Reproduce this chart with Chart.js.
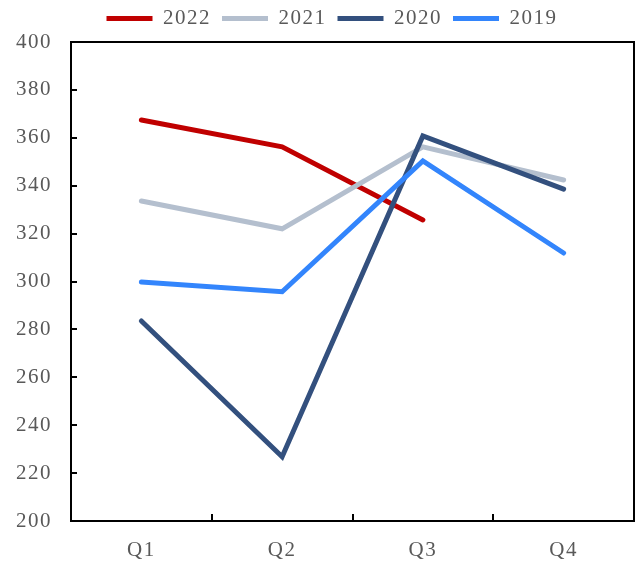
<!DOCTYPE html>
<html>
<head>
<meta charset="utf-8">
<script src="https://cdn.jsdelivr.net/npm/chart.js@4/dist/chart.umd.min.js"></script>
<style>
  html, body { margin: 0; padding: 0; background: #fff; }
  #wrap { width: 643px; height: 563px; position: relative; }
</style>
</head>
<body>
<div id="wrap"><canvas id="quarterChart"></canvas></div>
<script>
const quarters = ['Q1', 'Q2', 'Q3', 'Q4'];
const seriesNames = ['2022', '2021', '2020', '2019'];
const values2022 = [367.4, 356.2, 325.7, null];
const values2021 = [333.6, 322.0, 356.2, 342.4];
const values2020 = [283.5, 226.8, 360.8, 338.6];
const values2019 = [299.8, 295.7, 350.3, 311.9];
const seriesColors = ['#C00000', '#B4BFCE', '#33507E', '#3385FC'];
const yTicks = [200, 220, 240, 260, 280, 300, 320, 340, 360, 380, 400];

const FONT = '"Liberation Serif", "Times New Roman", serif';
const TEXT_GREY = '#595959';

// spaced-out digits like the original export
const spacing = {
  id: 'spacing',
  beforeLayout(chart) { chart.ctx.letterSpacing = '1.5px'; },
  beforeDraw(chart) { chart.ctx.letterSpacing = '1.5px'; },
};

// legend: a little more room under it, and nudged right of the canvas centre
const legendPlacement = {
  id: 'legendPlacement',
  beforeLayout(chart) {
    const lg = chart.legend;
    if (!lg || lg._gapPatched) return;
    const fit = lg.fit;
    lg.fit = function () {
      fit.call(this);
      this.height += 3;
    };
    lg._gapPatched = true;
  },
  afterLayout(chart) {
    const lg = chart.legend;
    if (!lg) return;
    lg.left += 15;
    lg.right += 15;
  },
};

// closed frame with inward tick marks
const frame = {
  id: 'frame',
  afterDatasetsDraw(chart) {
    const { ctx, chartArea: a, scales } = chart;
    ctx.save();
    ctx.strokeStyle = '#000';
    ctx.lineWidth = 2;
    ctx.strokeRect(a.left, a.top, a.right - a.left, a.bottom - a.top);
    ctx.beginPath();
    yTicks.forEach((v) => {
      const py = Math.round(scales.y.getPixelForValue(v));
      ctx.moveTo(a.left, py);
      ctx.lineTo(a.left + 6, py);
    });
    for (let i = 0; i < quarters.length - 1; i++) {
      const px = Math.round((scales.x.getPixelForValue(i) + scales.x.getPixelForValue(i + 1)) / 2);
      ctx.moveTo(px, a.bottom);
      ctx.lineTo(px, a.bottom - 7);
    }
    ctx.stroke();
    ctx.restore();
  },
};

function lineSet(label, data, color, order) {
  return {
    label,
    data,
    order,
    borderColor: color,
    backgroundColor: color,
    borderWidth: 5,
    borderCapStyle: 'round',
    borderJoinStyle: 'miter',
    pointRadius: 0,
    pointHoverRadius: 0,
    tension: 0,
    spanGaps: false,
  };
}

new Chart(document.getElementById('quarterChart'), {
  type: 'line',
  data: {
    labels: quarters,
    datasets: [
      lineSet(seriesNames[0], values2022, seriesColors[0], 4),
      lineSet(seriesNames[1], values2021, seriesColors[1], 3),
      lineSet(seriesNames[2], values2020, seriesColors[2], 2),
      lineSet(seriesNames[3], values2019, seriesColors[3], 1),
    ],
  },
  options: {
    responsive: true,
    maintainAspectRatio: false,
    animation: false,
    layout: { padding: { top: -3, right: 9, bottom: 0, left: 0 } },
    plugins: {
      tooltip: { enabled: false },
      legend: {
        position: 'top',
        labels: {
          usePointStyle: true,
          pointStyle: 'line',
          pointStyleWidth: 46,
          color: TEXT_GREY,
          padding: 11,
          font: { family: FONT, size: 21 },
          sort: (a, b) => a.datasetIndex - b.datasetIndex,
        },
      },
    },
    scales: {
      x: {
        offset: true,
        grid: { display: false },
        border: { display: false },
        ticks: { color: TEXT_GREY, padding: 9, font: { family: FONT, size: 21 } },
        afterFit: (s) => { s.height = 42; },
      },
      y: {
        min: 200,
        max: 400,
        grid: { display: false },
        border: { display: false },
        afterBuildTicks: (s) => { s.ticks = yTicks.map((v) => ({ value: v })); },
        ticks: { color: TEXT_GREY, padding: 11, font: { family: FONT, size: 21 } },
        afterFit: (s) => { s.width = 71; },
      },
    },
  },
  plugins: [spacing, legendPlacement, frame],
});
</script>
</body>
</html>
